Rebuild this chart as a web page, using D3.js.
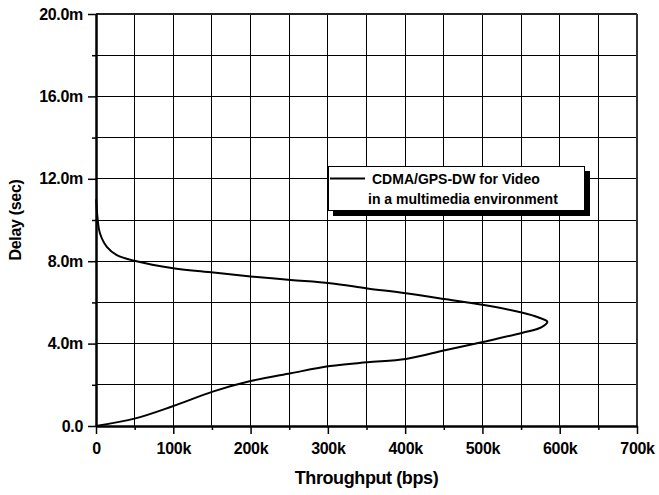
<!DOCTYPE html>
<html>
<head>
<meta charset="utf-8">
<script src="https://cdn.jsdelivr.net/npm/d3@7"></script>
<style>
  html, body { margin: 0; padding: 0; background: #fff; }
  svg { display: block; font-family: "Liberation Sans", Arial, sans-serif; font-weight: bold; }
</style>
</head>
<body>
<svg id="chart" width="659" height="495"></svg>
<script>
// Throughput (bps) and delay (s) along the measured curve, upper branch first
const throughput = [300, 1500, 5000, 14000, 27000, 51000, 100000, 152000, 200000, 252000,
  303000, 351000, 401000, 453000, 502000, 552000, 572000, 584000,
  576000, 552000, 502000, 453000, 401000, 351000, 303000, 252000, 200000, 152000, 100000, 51000, 0];
const delay = [0.0110, 0.0103, 0.00937, 0.00870, 0.00830, 0.00801, 0.00766, 0.00745, 0.00726, 0.00709,
  0.00693, 0.00668, 0.00644, 0.00615, 0.00587, 0.00550, 0.00528, 0.00506,
  0.00479, 0.00453, 0.00409, 0.00369, 0.00325, 0.00309, 0.00291, 0.00256, 0.00218, 0.00168, 0.00097, 0.00037, 0];

const xMajorTicks = [0, 100000, 200000, 300000, 400000, 500000, 600000, 700000];
const xMinorTicks = [50000, 150000, 250000, 350000, 450000, 550000, 650000];
const yMajorTicks = [0, 0.004, 0.008, 0.012, 0.016, 0.020];
const yMinorTicks = [0.002, 0.006, 0.010, 0.014, 0.018];

const xTitle = "Throughput (bps)";
const yTitle = "Delay (sec)";
const legendLines = ["CDMA/GPS-DW for Video", "in a multimedia environment"];

const W = 659, H = 495;
const M = { left: 96, top: 14, right: 22, bottom: 69 };
const svg = d3.select("#chart");

const x = d3.scaleLinear().domain([0, 700000]).range([M.left, W - M.right]);
const y = d3.scaleLinear().domain([0, 0.020]).range([H - M.bottom, M.top]);

const fmtX = d => d === 0 ? "0" : d3.format("~s")(d);
const fmtY = d => d === 0 ? "0.0" : (d * 1000).toFixed(1) + "m";

// grid
const grid = svg.append("g").attr("stroke", "#000").attr("stroke-width", 1).attr("shape-rendering", "crispEdges");
grid.selectAll("line.v").data(xMajorTicks.concat(xMinorTicks).filter(d => d > 0 && d < 700000))
  .join("line").attr("class", "v")
  .attr("x1", d => x(d)).attr("x2", d => x(d)).attr("y1", y(0)).attr("y2", y(0.020));
grid.selectAll("line.h").data(yMajorTicks.concat(yMinorTicks).filter(d => d > 0 && d < 0.020))
  .join("line").attr("class", "h")
  .attr("y1", d => y(d)).attr("y2", d => y(d)).attr("x1", x(0)).attr("x2", x(700000));

// frame: top and right borders
svg.append("line").attr("x1", x(0)).attr("x2", x(700000)).attr("y1", y(0.020)).attr("y2", y(0.020))
  .attr("stroke", "#222").attr("stroke-width", 2);
svg.append("line").attr("x1", x(700000)).attr("x2", x(700000)).attr("y1", y(0.020)).attr("y2", y(0))
  .attr("stroke", "#333").attr("stroke-width", 2);

// axes
function styleAxis(g, withText) {
  g.select(".domain").attr("stroke", "#000").attr("stroke-width", 2);
  g.selectAll(".tick line").attr("stroke", "#000").attr("stroke-width", 1.5);
  g.selectAll(".tick text").attr("fill", "#000").attr("font-size", 16)
    .attr("font-family", "'Liberation Sans', Arial, sans-serif").attr("font-weight", "bold")
    .style("letter-spacing", "-0.3px");
  if (!withText) g.selectAll(".tick text").remove();
}

const xAxisMinor = svg.append("g").attr("transform", `translate(0,${y(0)})`)
  .call(d3.axisBottom(x).tickValues(xMinorTicks).tickSize(4).tickSizeOuter(0));
styleAxis(xAxisMinor, false);
const xAxis = svg.append("g").attr("transform", `translate(0,${y(0)})`)
  .call(d3.axisBottom(x).tickValues(xMajorTicks).tickFormat(fmtX).tickSize(8).tickSizeOuter(0).tickPadding(9));
styleAxis(xAxis, true);

const yAxisMinor = svg.append("g").attr("transform", `translate(${x(0)},0)`)
  .call(d3.axisLeft(y).tickValues(yMinorTicks).tickSize(4).tickSizeOuter(0));
styleAxis(yAxisMinor, false);
const yAxis = svg.append("g").attr("transform", `translate(${x(0)},0)`)
  .call(d3.axisLeft(y).tickValues(yMajorTicks).tickFormat(fmtY).tickSize(8).tickSizeOuter(0).tickPadding(5));
styleAxis(yAxis, true);

// curve
const pts = throughput.map((t, i) => [t, delay[i]]);
svg.append("path").datum(pts)
  .attr("fill", "none").attr("stroke", "#000").attr("stroke-width", 2)
  .attr("d", d3.line().x(d => x(d[0])).y(d => y(d[1])).curve(d3.curveCatmullRom.alpha(0.5)));

// axis titles
svg.append("text").attr("x", (x(0) + x(700000)) / 2).attr("y", 484)
  .attr("text-anchor", "middle").attr("font-size", 18).style("letter-spacing", "-0.4px")
  .text(xTitle);
svg.append("text").attr("transform", `translate(21,${(y(0) + y(0.020)) / 2}) rotate(-90)`)
  .attr("text-anchor", "middle").attr("font-size", 16).style("letter-spacing", "-0.3px")
  .text(yTitle);

// legend
const lg = svg.append("g");
lg.append("rect").attr("x", 333).attr("y", 171).attr("width", 257).attr("height", 45).attr("fill", "#000");
lg.append("rect").attr("x", 328.5).attr("y", 166.5).attr("width", 256).attr("height", 44)
  .attr("fill", "#fff").attr("stroke", "#000").attr("stroke-width", 1);
lg.append("line").attr("x1", 330).attr("x2", 365).attr("y1", 178.5).attr("y2", 178.5)
  .attr("stroke", "#000").attr("stroke-width", 2);
lg.append("text").attr("x", 372).attr("y", 184).attr("font-size", 14).text(legendLines[0]);
lg.append("text").attr("x", 368).attr("y", 204).attr("font-size", 14).text(legendLines[1]);
</script>
</body>
</html>
